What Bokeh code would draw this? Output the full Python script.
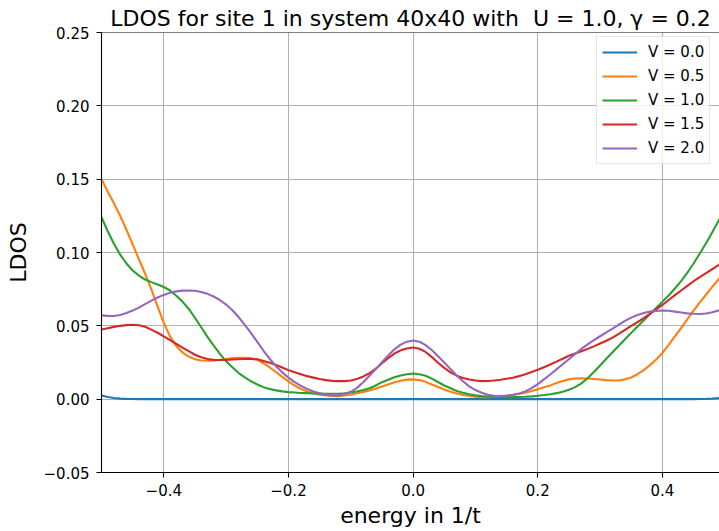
from bokeh.plotting import figure
from bokeh.models import FixedTicker, Legend, LegendItem, Span
from bokeh.embed import file_html
from bokeh.resources import INLINE

# ---------------- data ----------------
energy = [round(-0.50 + 0.01 * i, 2) for i in range(101)]

ldos_v00 = ([0.0025, 0.0015, 0.0008, 0.0004, 0.0002, 0.0001] + [0.0] * 90 +
            [0.0001, 0.0002, 0.0004, 0.0007, 0.0011])

ldos_v05 = [0.150, 0.1415, 0.1335, 0.1250, 0.1155, 0.1055, 0.0955, 0.0855, 0.0748, 0.0632,  # -0.50..-0.41
            0.0520, 0.0428, 0.0362, 0.0318, 0.0290, 0.0272, 0.0264, 0.0262, 0.0264, 0.0268,  # -0.40..-0.31
            0.0274, 0.0280, 0.0282, 0.0282, 0.0278, 0.0268, 0.0245, 0.0216, 0.0185, 0.0152,  # -0.30..-0.21
            0.0122, 0.0093, 0.0070, 0.0054, 0.0040, 0.0031, 0.0025, 0.0022, 0.0021, 0.0025,  # -0.20..-0.11
            0.0031, 0.0040, 0.0049, 0.0060, 0.0072, 0.0086, 0.0100, 0.0115, 0.0126, 0.0133,  # -0.10..-0.01
            0.0135,                                                                           # 0.00
            0.0130, 0.0118, 0.0100, 0.0083, 0.0066, 0.0051, 0.0038, 0.0029, 0.0022, 0.0017,  # 0.01..0.10
            0.0014, 0.0014, 0.0015, 0.0018, 0.0022, 0.0028, 0.0035, 0.0044, 0.0055, 0.0067,  # 0.11..0.20
            0.0081, 0.0094, 0.0110, 0.0124, 0.0135, 0.0141, 0.0143, 0.0141, 0.0138, 0.0134,  # 0.21..0.30
            0.0130, 0.0127, 0.0127, 0.0135, 0.0148, 0.0170, 0.0198, 0.0232, 0.0270, 0.0315,  # 0.31..0.40
            0.0370, 0.0428, 0.0485, 0.0545, 0.0603, 0.0660, 0.0712, 0.0765, 0.0817, 0.0870]  # 0.41..0.50

ldos_v10 = [0.124, 0.1145, 0.1060, 0.0985, 0.0925, 0.0877, 0.0842, 0.0816, 0.0798, 0.0782,
            0.0765, 0.0741, 0.0705, 0.0665, 0.0615, 0.0555, 0.0490, 0.0425, 0.0365, 0.0309,
            0.0258, 0.0217, 0.0178, 0.0148, 0.0122, 0.0100, 0.0082, 0.0070, 0.0060, 0.0053,
            0.0048, 0.0045, 0.0042, 0.0041, 0.0039, 0.0038, 0.0037, 0.0037, 0.0037, 0.0040,
            0.0045, 0.0052, 0.0062, 0.0075, 0.0093, 0.0116, 0.0133, 0.0149, 0.0161, 0.0170,
            0.0175,
            0.0170, 0.0160, 0.0140, 0.0117, 0.0093, 0.0074, 0.0056, 0.0043, 0.0034, 0.0026,
            0.0021, 0.0018, 0.0016, 0.0015, 0.0014, 0.0014, 0.0015, 0.0016, 0.0019, 0.0023,
            0.0028, 0.0034, 0.0041, 0.0051, 0.0064, 0.0082, 0.0108, 0.0143, 0.0185, 0.0230,
            0.0275, 0.0320, 0.0364, 0.0408, 0.0452, 0.0495, 0.0537, 0.0580, 0.0622, 0.0665,
            0.0707, 0.0755, 0.0805, 0.0862, 0.0925, 0.0993, 0.1063, 0.1138, 0.1215, 0.1300]

ldos_v15 = [0.0475, 0.0484, 0.0493, 0.0500, 0.0505, 0.0507, 0.0504, 0.0494, 0.0474, 0.0453,
            0.0428, 0.0402, 0.0377, 0.0352, 0.0327, 0.0303, 0.0286, 0.0274, 0.0268, 0.0267,
            0.0268, 0.0270, 0.0272, 0.0274, 0.0275, 0.0272, 0.0260, 0.0248, 0.0233, 0.0216,
            0.0198, 0.0184, 0.0170, 0.0157, 0.0147, 0.0137, 0.0130, 0.0125, 0.0123, 0.0123,
            0.0127, 0.0137, 0.0155, 0.0177, 0.0207, 0.0245, 0.0280, 0.0311, 0.0333, 0.0346,
            0.0352,
            0.0344, 0.0322, 0.0287, 0.0248, 0.0213, 0.0183, 0.0160, 0.0145, 0.0134, 0.0127,
            0.0123, 0.0124, 0.0127, 0.0132, 0.0139, 0.0146, 0.0157, 0.0170, 0.0185, 0.0201,
            0.0218, 0.0236, 0.0256, 0.0276, 0.0296, 0.0312, 0.0327, 0.0343, 0.0360, 0.0379,
            0.0398, 0.0420, 0.0445, 0.0472, 0.0499, 0.0526, 0.0553, 0.0582, 0.0612, 0.0643,
            0.0676, 0.0709, 0.0741, 0.0773, 0.0804, 0.0832, 0.0859, 0.0887, 0.0914, 0.0940]

ldos_v20 = [0.0571, 0.0568, 0.0567, 0.0574, 0.0587, 0.0604, 0.0624, 0.0648, 0.0672, 0.0693,
            0.0711, 0.0725, 0.0735, 0.0740, 0.0741, 0.0739, 0.0731, 0.0718, 0.0700, 0.0676,
            0.0645, 0.0606, 0.0560, 0.0507, 0.0450, 0.0390, 0.0330, 0.0274, 0.0225, 0.0183,
            0.0147, 0.0116, 0.0090, 0.0070, 0.0052, 0.0040, 0.0031, 0.0026, 0.0026, 0.0035,
            0.0050, 0.0077, 0.0115, 0.0160, 0.0205, 0.0252, 0.0298, 0.0340, 0.0372, 0.0392,
            0.0400,
            0.0392, 0.0368, 0.0335, 0.0293, 0.0250, 0.0205, 0.0162, 0.0122, 0.0087, 0.0062,
            0.0044, 0.0030, 0.0023, 0.0021, 0.0025, 0.0030, 0.0039, 0.0053, 0.0075, 0.0103,
            0.0135, 0.0168, 0.0203, 0.0238, 0.0272, 0.0308, 0.0343, 0.0374, 0.0402, 0.0429,
            0.0455, 0.0481, 0.0508, 0.0534, 0.0556, 0.0574, 0.0587, 0.0597, 0.0602, 0.0605,
            0.0603, 0.0597, 0.0591, 0.0585, 0.0582, 0.0581, 0.0584, 0.0592, 0.0604, 0.0615]

series_labels = ["V = 0.0", "V = 0.5", "V = 1.0", "V = 1.5", "V = 2.0"]
series_values = [ldos_v00, ldos_v05, ldos_v10, ldos_v15, ldos_v20]
series_colors = ["#1f77b4", "#ff7f0e", "#2ca02c", "#d62728", "#9467bd"]

xtick_values = [-0.4, -0.2, 0.0, 0.2, 0.4]
xtick_labels = ["\u22120.4", "\u22120.2", "0.0", "0.2", "0.4"]
ytick_values = [-0.05, 0.0, 0.05, 0.10, 0.15, 0.20, 0.25]
ytick_labels = ["\u22120.05", "0.00", "0.05", "0.10", "0.15", "0.20", "0.25"]

title_text = "LDOS for site 1 in system 40x40 with\u00a0 U = 1.0, \u03b3 = 0.2"
xlabel = "energy in 1/t"
ylabel = "LDOS"

# ---------------- figure ----------------
FONT = "DejaVu Sans"
p = figure(width=719, height=531, x_range=(-0.5, 0.4916), y_range=(-0.05, 0.25),
           output_backend="svg", toolbar_location=None,
           min_border_left=101, min_border_right=0, min_border_top=32, min_border_bottom=59)
p.background_fill_color = "white"
p.border_fill_color = "white"
p.outline_line_color = None

p.title.text = title_text
p.title.text_font = FONT
p.title.text_font_size = "22px"
p.title.text_font_style = "normal"
p.title.text_color = "black"
p.title.align = "center"
p.title.standoff = 4
p.title.offset = 0

items = []
for lab, vals, col in zip(series_labels, series_values, series_colors):
    r = p.line(energy, vals, line_color=col, line_width=2.1, line_join="round")
    items.append(LegendItem(label=lab, renderers=[r]))

top_spine = Span(location=0.25, dimension="width", line_color="black", line_width=1.1)
p.add_layout(top_spine)

for ax, tv, tl in ((p.xaxis[0], xtick_values, xtick_labels), (p.yaxis[0], ytick_values, ytick_labels)):
    ax.ticker = FixedTicker(ticks=tv)
    ax.major_label_overrides = {v: s for v, s in zip(tv, tl)}
    ax.minor_tick_line_color = None
    ax.major_tick_in = 0
    ax.major_tick_out = 5
    ax.major_tick_line_width = 1.1
    ax.axis_line_width = 1.1
    ax.axis_line_color = "black"
    ax.major_label_text_font = FONT
    ax.major_label_text_font_size = "15px"
    ax.major_label_text_color = "black"
    ax.axis_label_text_font = FONT
    ax.axis_label_text_font_size = "22px"
    ax.axis_label_text_font_style = "normal"
    ax.axis_label_text_color = "black"

p.xaxis.axis_label = xlabel
p.yaxis.axis_label = ylabel
p.xaxis.major_label_standoff = 6
p.xaxis.axis_label_standoff = 4
p.yaxis.major_label_standoff = 7
p.yaxis.axis_label_standoff = 10

p.xgrid.ticker = FixedTicker(ticks=xtick_values)
p.ygrid.ticker = FixedTicker(ticks=ytick_values)
p.grid.grid_line_color = "#b0b0b0"
p.grid.grid_line_width = 1.1

legend = Legend(items=items, location=(495, 308))
legend.label_text_font = FONT
legend.label_text_font_size = "15px"
legend.label_text_color = "black"
legend.glyph_width = 35
legend.glyph_height = 20
legend.label_height = 20
legend.label_standoff = 11
legend.spacing = 4
legend.padding = 5
legend.margin = 0
legend.border_line_color = "#cccccc"
legend.border_line_width = 1
legend.background_fill_alpha = 0.8
p.add_layout(legend)

open("out.html", "w").write(file_html(p, INLINE))
